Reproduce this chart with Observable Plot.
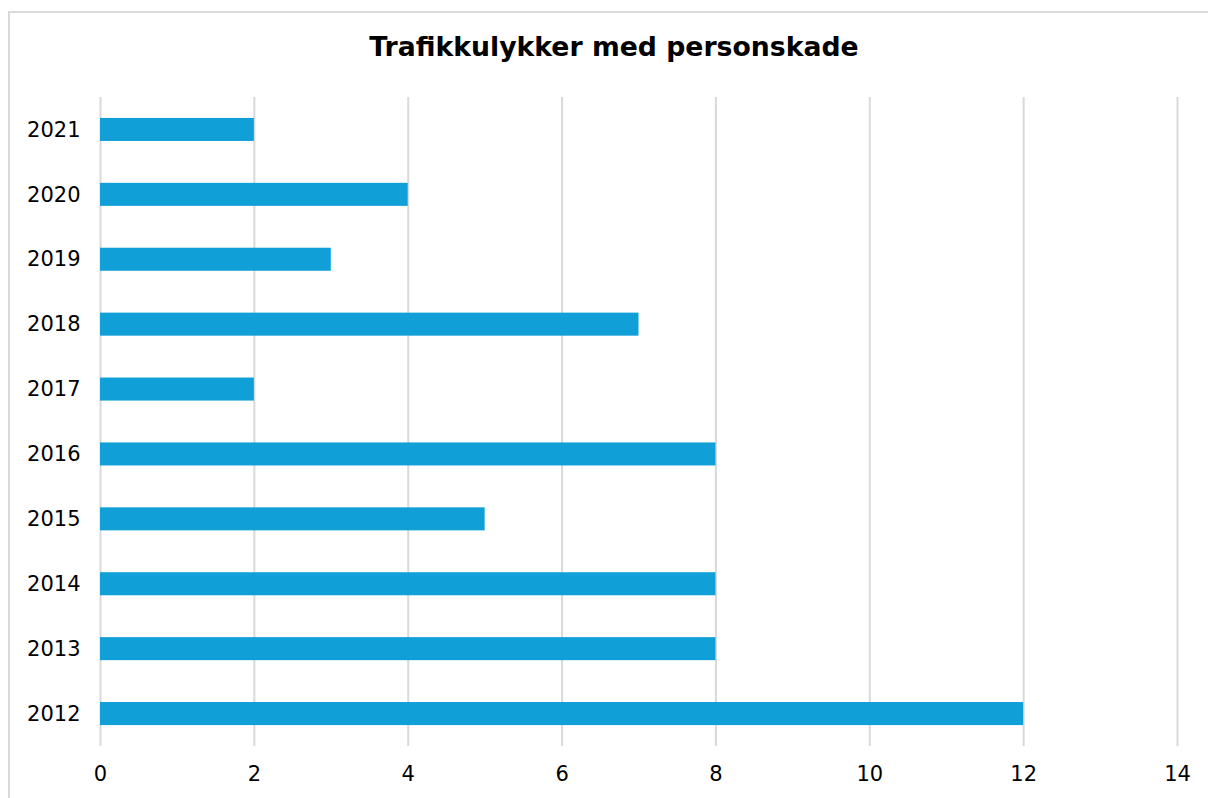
<!DOCTYPE html>
<html>
<head>
<meta charset="utf-8">
<script src="https://cdn.jsdelivr.net/npm/d3@7"></script>
<script src="https://cdn.jsdelivr.net/npm/@observablehq/plot@0.6"></script>
<style>
  html, body { margin: 0; padding: 0; width: 1208px; height: 798px; overflow: hidden; background: #fff; font-family: "DejaVu Sans", Verdana, sans-serif; }
  #frame { position: absolute; left: 8px; top: 11px; width: 1400px; height: 1000px; border: 2px solid #d9d9d9; box-sizing: border-box; }
  #title { position: absolute; left: 0; top: 31px; width: 1228px; text-align: center; font-weight: bold; font-size: 26.7px; line-height: 32px; color: #000; }
  #chart { position: absolute; left: 0; top: 80px; }
</style>
</head>
<body>
<div id="frame"></div>
<div id="title">Trafikkulykker med personskade</div>
<div id="chart"></div>
<script>
const years = ["2012","2013","2014","2015","2016","2017","2018","2019","2020","2021"];
const values = [12, 8, 8, 5, 8, 2, 7, 3, 4, 2];
const xTicks = [0, 2, 4, 6, 8, 10, 12, 14];

const data = years.map((y, i) => ({year: y, value: values[i]}));

const chart = Plot.plot({
  width: 1208,
  height: 718,
  marginLeft: 100,
  marginRight: 31,
  marginTop: 17,
  marginBottom: 52,
  style: { fontFamily: "'DejaVu Sans', Verdana, sans-serif", fontSize: "21px", color: "#000", background: "transparent" },
  x: { domain: [0, 14], ticks: xTicks, tickSize: 0, tickPadding: 20, label: null },
  y: { domain: years.slice().reverse(), round: false, paddingInner: 0.645, paddingOuter: 0.3225, tickSize: 0, tickPadding: 20, label: null },
  marks: [
    Plot.ruleX(xTicks, { stroke: "#d9d9d9", strokeWidth: 2 }),
    Plot.barX(data, { x: "value", y: "year", fill: "#119FD7", inset: 0 }),
    Plot.axisX({ ticks: xTicks, tickSize: 0, tickPadding: 20, fontSize: 21 }),
    Plot.axisY({ tickSize: 0, tickPadding: 20, fontSize: 21 })
  ]
});
document.getElementById("chart").appendChild(chart);
</script>
</body>
</html>
